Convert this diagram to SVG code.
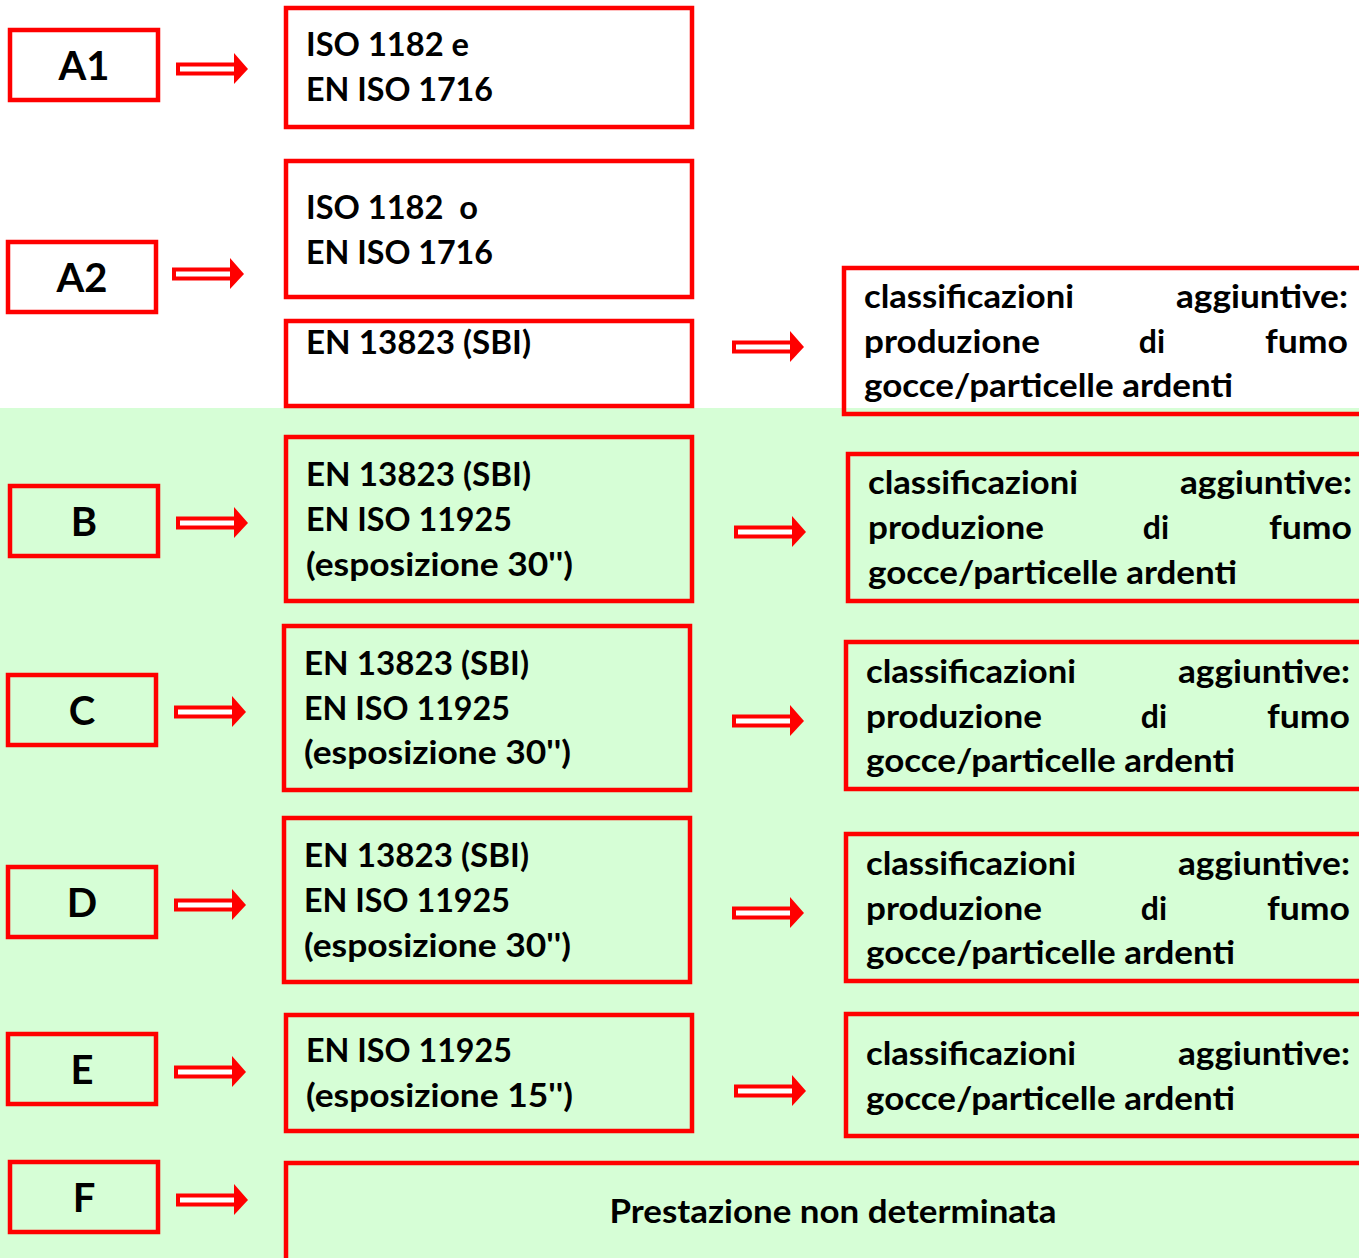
<svg xmlns="http://www.w3.org/2000/svg" width="1359" height="1258" viewBox="0 0 1359 1258">
  <style>
    .box { fill: none; stroke: #ff0000; stroke-width: 4.5; }
    .t { font-family: Lato, "Open Sans", "Liberation Sans", sans-serif; font-weight: bold; font-size: 32px; fill: #000; }
    .lbl { font-family: Lato, "Open Sans", "Liberation Sans", sans-serif; font-weight: bold; font-size: 40px; fill: #000; text-anchor: middle; }
    .end { text-anchor: end; }
    .mid { text-anchor: middle; }
    .shaft { fill: #ffffff; stroke: #ff0000; stroke-width: 4; }
    .head { fill: #ff0000; }
  </style>
  <defs>
    <!-- double-line block arrow, origin at the tail centre -->
    <g id="arr">
      <rect class="shaft" x="2" y="-4.5" width="58" height="9"/>
      <polygon class="head" points="58,-16 72,0 58,15"/>
    </g>
  </defs>

  <!-- backgrounds -->
  <rect x="0" y="0" width="1359" height="1258" fill="#ffffff"/>
  <rect x="0" y="408" width="1359" height="850" fill="#d6fed6"/>

  <!-- class labels -->
  <g id="lbl-a1"><rect class="box" x="10" y="30" width="148" height="70"/><text class="lbl" x="84" y="80">A1</text></g>
  <g id="lbl-a2"><rect class="box" x="8" y="242" width="148" height="70"/><text class="lbl" x="82" y="292">A2</text></g>
  <g id="lbl-b"><rect class="box" x="10" y="486" width="148" height="70"/><text class="lbl" x="84" y="536">B</text></g>
  <g id="lbl-c"><rect class="box" x="8" y="675" width="148" height="70"/><text class="lbl" x="82" y="725">C</text></g>
  <g id="lbl-d"><rect class="box" x="8" y="867" width="148" height="70"/><text class="lbl" x="82" y="917">D</text></g>
  <g id="lbl-e"><rect class="box" x="8" y="1034" width="148" height="70"/><text class="lbl" x="82" y="1084">E</text></g>
  <g id="lbl-f"><rect class="box" x="10" y="1162" width="148" height="70"/><text class="lbl" x="84" y="1212">F</text></g>

  <!-- test method boxes -->
  <g id="test-a1">
    <rect class="box" x="286" y="8" width="406" height="119"/>
    <text class="t" x="306" y="56" textLength="163" lengthAdjust="spacingAndGlyphs">ISO 1182 e</text>
    <text class="t" x="306" y="101" textLength="187" lengthAdjust="spacingAndGlyphs">EN ISO 1716</text>
  </g>
  <g id="test-a2-1">
    <rect class="box" x="286" y="161" width="406" height="136"/>
    <text class="t" x="306" y="219" xml:space="preserve" textLength="172" lengthAdjust="spacingAndGlyphs">ISO 1182  o</text>
    <text class="t" x="306" y="264" textLength="187" lengthAdjust="spacingAndGlyphs">EN ISO 1716</text>
  </g>
  <g id="test-a2-2">
    <rect class="box" x="286" y="321" width="406" height="85"/>
    <text class="t" x="306" y="354" textLength="225" lengthAdjust="spacingAndGlyphs">EN 13823 (SBI)</text>
  </g>
  <g id="test-b">
    <rect class="box" x="286" y="437" width="406" height="164"/>
    <text class="t" x="306" y="486" textLength="225" lengthAdjust="spacingAndGlyphs">EN 13823 (SBI)</text>
    <text class="t" x="306" y="531" textLength="206" lengthAdjust="spacingAndGlyphs">EN ISO 11925</text>
    <text class="t" x="306" y="576" textLength="267" lengthAdjust="spacingAndGlyphs">(esposizione 30'')</text>
  </g>
  <g id="test-c">
    <rect class="box" x="284" y="626" width="406" height="164"/>
    <text class="t" x="304" y="675" textLength="225" lengthAdjust="spacingAndGlyphs">EN 13823 (SBI)</text>
    <text class="t" x="304" y="720" textLength="206" lengthAdjust="spacingAndGlyphs">EN ISO 11925</text>
    <text class="t" x="304" y="764" textLength="267" lengthAdjust="spacingAndGlyphs">(esposizione 30'')</text>
  </g>
  <g id="test-d">
    <rect class="box" x="284" y="818" width="406" height="164"/>
    <text class="t" x="304" y="867" textLength="225" lengthAdjust="spacingAndGlyphs">EN 13823 (SBI)</text>
    <text class="t" x="304" y="912" textLength="206" lengthAdjust="spacingAndGlyphs">EN ISO 11925</text>
    <text class="t" x="304" y="957" textLength="267" lengthAdjust="spacingAndGlyphs">(esposizione 30'')</text>
  </g>
  <g id="test-e">
    <rect class="box" x="286" y="1015" width="406" height="116"/>
    <text class="t" x="306" y="1062" textLength="206" lengthAdjust="spacingAndGlyphs">EN ISO 11925</text>
    <text class="t" x="306" y="1107" textLength="267" lengthAdjust="spacingAndGlyphs">(esposizione 15'')</text>
  </g>
  <g id="test-f">
    <rect class="box" x="286" y="1163" width="1080" height="110"/>
    <text class="t mid" x="833" y="1223" textLength="447" lengthAdjust="spacingAndGlyphs">Prestazione non determinata</text>
  </g>

  <!-- additional classification boxes -->
  <g id="extra-a2">
    <rect class="box" x="844" y="268" width="530" height="146"/>
    <text class="t" x="864" y="308" textLength="210" lengthAdjust="spacingAndGlyphs">classificazioni</text><text class="t end" x="1348" y="308" textLength="172" lengthAdjust="spacingAndGlyphs">aggiuntive:</text>
    <text class="t" x="864" y="353" textLength="176" lengthAdjust="spacingAndGlyphs">produzione</text><text class="t mid" x="1152" y="353">di</text><text class="t end" x="1348" y="353" textLength="83" lengthAdjust="spacingAndGlyphs">fumo</text>
    <text class="t" x="864" y="397" textLength="369" lengthAdjust="spacingAndGlyphs">gocce/particelle ardenti</text>
  </g>
  <g id="extra-b">
    <rect class="box" x="848" y="454" width="530" height="147"/>
    <text class="t" x="868" y="494" textLength="210" lengthAdjust="spacingAndGlyphs">classificazioni</text><text class="t end" x="1352" y="494" textLength="172" lengthAdjust="spacingAndGlyphs">aggiuntive:</text>
    <text class="t" x="868" y="539" textLength="176" lengthAdjust="spacingAndGlyphs">produzione</text><text class="t mid" x="1156" y="539">di</text><text class="t end" x="1352" y="539" textLength="83" lengthAdjust="spacingAndGlyphs">fumo</text>
    <text class="t" x="868" y="584" textLength="369" lengthAdjust="spacingAndGlyphs">gocce/particelle ardenti</text>
  </g>
  <g id="extra-c">
    <rect class="box" x="846" y="642" width="530" height="147"/>
    <text class="t" x="866" y="683" textLength="210" lengthAdjust="spacingAndGlyphs">classificazioni</text><text class="t end" x="1350" y="683" textLength="172" lengthAdjust="spacingAndGlyphs">aggiuntive:</text>
    <text class="t" x="866" y="728" textLength="176" lengthAdjust="spacingAndGlyphs">produzione</text><text class="t mid" x="1154" y="728">di</text><text class="t end" x="1350" y="728" textLength="83" lengthAdjust="spacingAndGlyphs">fumo</text>
    <text class="t" x="866" y="772" textLength="369" lengthAdjust="spacingAndGlyphs">gocce/particelle ardenti</text>
  </g>
  <g id="extra-d">
    <rect class="box" x="846" y="834" width="530" height="147"/>
    <text class="t" x="866" y="875" textLength="210" lengthAdjust="spacingAndGlyphs">classificazioni</text><text class="t end" x="1350" y="875" textLength="172" lengthAdjust="spacingAndGlyphs">aggiuntive:</text>
    <text class="t" x="866" y="920" textLength="176" lengthAdjust="spacingAndGlyphs">produzione</text><text class="t mid" x="1154" y="920">di</text><text class="t end" x="1350" y="920" textLength="83" lengthAdjust="spacingAndGlyphs">fumo</text>
    <text class="t" x="866" y="964" textLength="369" lengthAdjust="spacingAndGlyphs">gocce/particelle ardenti</text>
  </g>
  <g id="extra-e">
    <rect class="box" x="846" y="1014" width="530" height="122"/>
    <text class="t" x="866" y="1065" textLength="210" lengthAdjust="spacingAndGlyphs">classificazioni</text><text class="t end" x="1350" y="1065" textLength="172" lengthAdjust="spacingAndGlyphs">aggiuntive:</text>
    <text class="t" x="866" y="1110" textLength="369" lengthAdjust="spacingAndGlyphs">gocce/particelle ardenti</text>
  </g>

  <!-- connectors -->
  <g id="connectors">
    <use href="#arr" x="176" y="69"/>
    <use href="#arr" x="172" y="274"/>
    <use href="#arr" x="732" y="347"/>
    <use href="#arr" x="176" y="523"/>
    <use href="#arr" x="734" y="532"/>
    <use href="#arr" x="174" y="712"/>
    <use href="#arr" x="732" y="721"/>
    <use href="#arr" x="174" y="905"/>
    <use href="#arr" x="732" y="913"/>
    <use href="#arr" x="174" y="1072"/>
    <use href="#arr" x="734" y="1091"/>
    <use href="#arr" x="176" y="1200"/>
  </g>
</svg>
